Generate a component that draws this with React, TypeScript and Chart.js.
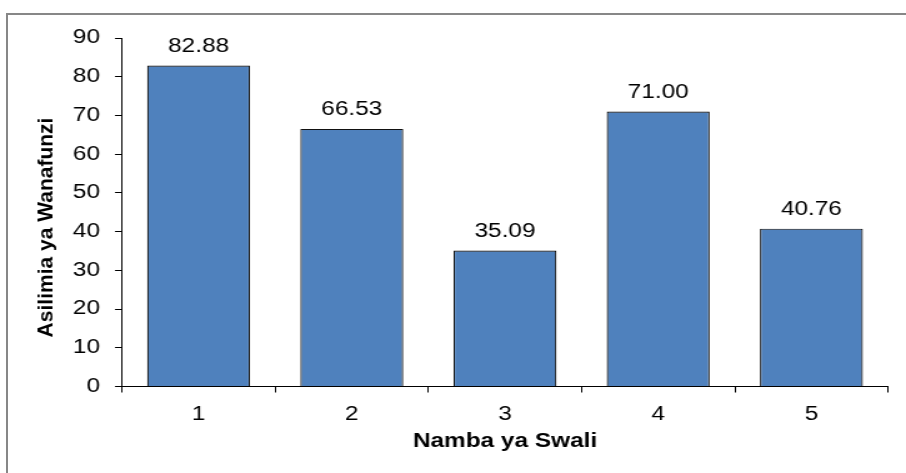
import React, { useEffect, useRef } from 'react';
import { Chart, registerables } from 'chart.js';

Chart.register(...registerables);

// ---- data ----
const categories = ['1', '2', '3', '4', '5'];
const values = [82.88, 66.53, 35.09, 71.0, 40.76];
const yMin = 0;
const yMax = 90;
const yStep = 10;
const xTitle = 'Namba ya Swali';
const yTitle = 'Asilimia ya Wanafunzi';

// ---- layout (display px) ----
const W = 906;
const H = 473;
const LW = 725; // logical canvas width (text is rendered wide, as in the reference)
const S = W / LW;
const lx = (x: number) => x / S;

const FONT = "'Liberation Sans', Arial, sans-serif";

export default function App() {
  const ref = useRef<HTMLCanvasElement | null>(null);

  useEffect(() => {
    const canvas = ref.current;
    if (!canvas) return;

    const labelPlugin = {
      id: 'valueLabels',
      afterDatasetsDraw(chart: any) {
        const ctx = chart.ctx;
        const meta = chart.getDatasetMeta(0);
        ctx.save();
        ctx.font = `19.5px ${FONT}`;
        ctx.fillStyle = '#000';
        ctx.textAlign = 'center';
        ctx.textBaseline = 'alphabetic';
        meta.data.forEach((bar: any, i: number) => {
          ctx.fillText(values[i].toFixed(2), bar.x, bar.y - 14);
        });
        ctx.restore();
      },
      afterDraw(chart: any) {
        const ctx = chart.ctx;
        ctx.save();
        ctx.translate(lx(47), 227.5);
        ctx.scale(1 / S, 1);
        ctx.rotate(-Math.PI / 2);
        ctx.font = `bold 21px ${FONT}`;
        ctx.fillStyle = '#000';
        ctx.textAlign = 'center';
        ctx.textBaseline = 'middle';
        ctx.fillText(yTitle, 0, 0);
        ctx.restore();
      },
    };

    const chart = new Chart(canvas, {
      type: 'bar',
      data: {
        labels: categories,
        datasets: [
          {
            data: values,
            backgroundColor: '#4F81BD',
            borderColor: '#111',
            borderWidth: 1.2,
            barPercentage: 0.672,
            categoryPercentage: 1,
          },
        ],
      },
      options: {
        responsive: false,
        maintainAspectRatio: false,
        devicePixelRatio: 1,
        animation: false,
        layout: {
          padding: { left: 0, right: LW - lx(888), top: 38, bottom: 0 },
        },
        plugins: {
          legend: { display: false },
          tooltip: { enabled: false },
          title: { display: false },
        },
        scales: {
          x: {
            type: 'category',
            offset: true,
            grid: {
              offset: true,
              drawOnChartArea: false,
              drawTicks: true,
              tickLength: 6,
              color: '#000',
              lineWidth: 1,
            },
            border: { display: true, color: '#000', width: 1 },
            ticks: {
              color: '#000',
              font: { family: FONT, size: 19.5 },
              padding: 10,
              maxRotation: 0,
            },
            title: {
              display: true,
              text: xTitle,
              color: '#000',
              font: { family: FONT, size: 19.5, weight: 'bold' },
              padding: { top: 0, bottom: 20 },
            },
            afterFit(scale: any) {
              scale.height = H - 386.5;
            },
          },
          y: {
            min: yMin,
            max: yMax,
            grid: {
              drawOnChartArea: false,
              drawTicks: true,
              tickLength: 7 / S,
              color: '#000',
              lineWidth: 1,
            },
            border: { display: true, color: '#000', width: 1 },
            ticks: {
              stepSize: yStep,
              color: '#000',
              font: { family: FONT, size: 19.5 },
              padding: 15 / S,
            },
            title: { display: false },
            afterFit(scale: any) {
              scale.width = lx(122);
            },
          },
        },
      },
      plugins: [labelPlugin],
    } as any);

    return () => chart.destroy();
  }, []);

  return (
    <div
      style={{
        position: 'absolute',
        left: 0,
        top: 0,
        width: W,
        height: H,
        overflow: 'hidden',
        background: '#fff',
      }}
    >
      <div
        style={{
          position: 'absolute',
          left: 6,
          top: 13,
          width: 2000,
          height: 2000,
          borderTop: '2px solid #878787',
          borderLeft: '2px solid #878787',
        }}
      />
      <canvas
        ref={ref}
        width={LW}
        height={H}
        style={{ position: 'absolute', left: 0, top: 0, width: W + 'px', height: H + 'px', display: 'block' }}
      />
    </div>
  );
}
